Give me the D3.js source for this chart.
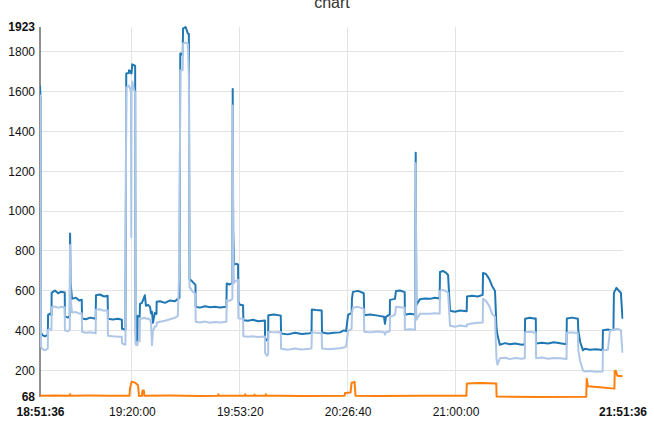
<!DOCTYPE html>
<html>
<head>
<meta charset="utf-8">
<script src="https://cdn.jsdelivr.net/npm/d3@7"></script>
<style>
  html, body { margin: 0; padding: 0; background: #fff; }
  svg { display: block; font-family: "Liberation Sans", Arial, sans-serif; }
</style>
</head>
<body>
<svg id="chart" width="654" height="426"></svg>
<script>
// ---- data (minutes after 18:51:36) ----
const chartTitle = "chart";
const startClock = [18, 51, 36];
const durationMinutes = 180;
const xTickLabels = ["19:20:00", "19:53:20", "20:26:40", "21:00:00"];
const yTickValues = [200, 400, 600, 800, 1000, 1200, 1400, 1600, 1800];
const yMin = 68, yMax = 1923;

const blueMinutes = [
  0, 0.15, 0.3, 0.8, 1.5, 2.4, 2.5, 3.1, 3.55, 3.6, 4.6, 5.6, 6.5, 7.65, 7.7, 8.7, 9.2, 9.3, 9.45, 9.9,
  11.1, 12.1, 12.9, 13.0, 14.2, 15.5, 17.2, 17.3, 18.5, 19.8, 20.9, 21.0, 22.5, 24.1, 25.3, 25.35, 26.4,
  26.65, 27.45, 27.5, 28.1, 28.2, 28.3, 28.5, 29.0, 29.4, 29.5, 29.65, 30.1, 30.15, 30.8, 30.9, 31.5,
  32.4, 32.75, 33.4, 34.0, 34.3, 34.6, 34.9, 35.5, 36.0, 36.05, 37.1, 38.6, 40.2, 41.7, 42.6, 43.1,
  43.35, 44.1, 44.2, 45.0, 45.7, 46.0, 46.2, 47.0, 48.05, 48.1, 49.4, 51.0, 52.5, 54.1, 55.6, 57.6,
  57.7, 58.6, 59.45, 59.55, 59.7, 59.95, 60.55, 61.2, 61.3, 61.8, 62.75, 62.85, 64.3, 65.8, 67.4, 69.5,
  69.55, 70.1, 70.5, 70.55, 72.3, 74.4, 74.5, 76.6, 78.8, 80.9, 83.35, 83.9, 84.0, 85.3, 87.05, 87.15,
  89.0, 90.8, 92.7, 93.9, 94.6, 95.2, 96.3, 96.4, 96.7, 98.3, 100.05, 100.2, 102.0, 104.4, 106.3, 106.6,
  106.9, 108.1, 108.15, 109.7, 110.0, 111.2, 112.7, 112.75, 114.3, 115.9, 116.1, 116.3, 117.4, 119.0,
  120.5, 122.0, 123.5, 123.6, 124.5, 125.5, 126.1, 126.7, 128.2, 129.8, 131.85, 131.95, 133.5, 135.3,
  136.8, 136.9, 137.8, 138.8, 139.7, 140.6, 141.05, 141.35, 142.1, 143.7, 145.2, 146.8, 148.9, 149.8,
  149.9, 151.4, 153.0, 153.2, 153.3, 155.1, 157.0, 158.8, 160.7, 162.7, 162.8, 164.4, 166.2, 166.35,
  166.9, 167.8, 168.4, 169.9, 171.8, 173.85, 173.95, 175.5, 176.1, 177.2, 177.35, 178.1, 179.05, 179.5, 180
];
const darkBlueValues = [
  1630, 1560, 390, 378, 372, 380, 480, 486, 478, 590, 602, 588, 596, 592, 472, 466, 475, 888, 640, 560,
  566, 552, 556, 462, 458, 466, 460, 578, 582, 572, 576, 460, 456, 460, 455, 410, 405,
  1690, 1692, 1706, 1700, 1690, 1692, 1736, 1732, 1728, 500, 350, 345, 475, 470, 535, 540,
  578, 525, 530, 520, 488, 495, 440, 490, 485, 545, 548, 540, 552, 548, 560, 565,
  1790, 1785, 1915, 1923, 1890, 1888, 660, 648, 630, 520, 516, 523, 518, 521, 517, 520,
  637, 632, 640, 1612, 900, 730, 736, 732, 545, 530, 528, 453, 450, 455, 448, 452,
  363, 352, 360, 478, 482, 476, 386, 382, 390, 384, 388, 390, 507, 504, 502, 391,
  386, 390, 392, 402, 398, 480, 490, 560, 595, 600, 588, 478, 482, 476, 470, 435,
  470, 482, 555, 560, 600, 602, 594, 480, 485, 482, 1292, 530, 558, 562,
  560, 566, 562, 695, 700, 690, 680, 500, 495, 502, 498, 572, 576, 572,
  580, 690, 685, 660, 625, 600, 420, 380, 330, 338, 332, 336, 330, 332,
  460, 465, 460, 462, 336, 340, 336, 342, 338, 333, 462, 466, 460, 400,
  345, 302, 310, 305, 307, 304, 403, 406, 404, 405, 590, 615, 598, 590, 460
];
const lightBlueValues = [
  1585, 1500, 320, 308, 302, 310, 405, 410, 404, 518, 522, 515, 520, 518, 402, 398, 405, 830, 560, 492,
  494, 486, 488, 395, 390, 393, 388, 505, 508, 500, 503, 375, 372, 370, 370, 336, 330,
  1620, 1625, 1630, 1600, 870, 1595, 1650, 1610, 1595, 340, 330, 328, 345, 348, 458, 462,
  465, 460, 462, 455, 440, 328, 400, 420, 425, 440, 445, 450, 458, 465, 475, 750,
  1706, 1706, 1840, 1845, 1838, 1680, 620, 600, 585, 445, 442, 446, 440, 444, 442, 445,
  553, 550, 560, 1530, 820, 640, 650, 655, 463, 462, 460, 372, 370, 372, 369, 371,
  290, 275, 282, 395, 392, 394, 310, 305, 311, 306, 310, 312, 392, 390, 388, 311,
  308, 310, 312, 316, 322, 400, 410, 490, 515, 520, 510, 395, 392, 396, 393, 380,
  393, 398, 470, 480, 520, 518, 515, 405, 408, 405, 1240, 455, 485, 486,
  485, 488, 486, 600, 605, 598, 590, 425, 420, 426, 422, 432, 436, 440,
  442, 560, 550, 525, 485, 470, 260, 230, 262, 265, 258, 264, 260, 262,
  392, 395, 390, 392, 262, 266, 260, 264, 262, 258, 390, 392, 388, 300,
  250, 200, 196, 198, 195, 196, 303, 305, 400, 406, 404, 410, 406, 402, 290
];
const orangeMinutes = [
  0, 4.6, 9.1, 9.3, 9.45, 15.5, 21.6, 27.65, 27.8, 28.3, 29.4, 30.3, 30.6, 31.5, 31.65, 32.1, 32.25,
  40.2, 49.4, 55.0, 55.1, 55.2, 63.3, 63.4, 63.5, 66.2, 66.3, 66.4, 69.7, 69.8, 69.9, 73.9, 80.3,
  94.1, 94.25, 95.95, 96.3, 97.2, 97.5, 105.1, 117.4, 131.75, 131.9, 136.0, 141.0, 141.1, 154.5,
  168.8, 168.95, 169.3, 173.0, 177.5, 177.6, 177.9, 178.4, 180
];
const orangeValues = [
  74, 76, 74, 82, 74, 75, 74, 74, 110, 144, 140, 127, 73, 74, 100, 100, 74,
  75, 73, 74, 82, 74, 74, 82, 74, 74, 80, 74, 74, 82, 74, 74, 73,
  74, 88, 90, 140, 144, 74, 73, 74, 74, 136, 138, 136, 70, 68,
  69, 160, 122, 117, 110, 198, 200, 175, 172
];

// ---- chart ----
const svg = d3.select("#chart");
const plot = { left: 40, right: 622.5, top: 27, bottom: 397 };

const t0 = new Date(2024, 0, 1, startClock[0], startClock[1], startClock[2]);
const toDate = m => new Date(t0.getTime() + m * 60000);
const t1 = toDate(durationMinutes);
const fmt = d3.timeFormat("%H:%M:%S");
const parseClock = d3.timeParse("%Y-%m-%d %H:%M:%S");

const x = d3.scaleTime().domain([t0, t1]).range([plot.left, plot.right]);
const y = d3.scaleLinear().domain([yMin, yMax]).range([plot.bottom, plot.top]);

const xTickDates = xTickLabels.map(s => parseClock("2024-01-01 " + s));

// grid
const grid = svg.append("g");
grid.selectAll("line.h").data(yTickValues).join("line")
  .attr("x1", plot.left).attr("x2", plot.right)
  .attr("y1", d => y(d)).attr("y2", d => y(d))
  .attr("stroke", "#e3e3e3").attr("stroke-width", 1).attr("shape-rendering", "crispEdges");
grid.selectAll("line.v").data(xTickDates).join("line")
  .attr("x1", d => x(d)).attr("x2", d => x(d))
  .attr("y1", plot.top).attr("y2", plot.bottom)
  .attr("stroke", "#e3e3e3").attr("stroke-width", 1).attr("shape-rendering", "crispEdges");

// y axis
const yAxis = d3.axisLeft(y).tickValues([yMin, ...yTickValues, yMax])
  .tickSize(0).tickPadding(5).tickFormat(d3.format("d"));
const yg = svg.append("g").attr("transform", `translate(${plot.left},0)`).call(yAxis);
yg.select(".domain").attr("stroke", "#222").attr("d", `M0,${plot.bottom}V${plot.top}`);
yg.selectAll("text").attr("font-size", 12).attr("fill", "#111")
  .attr("font-family", '"Liberation Sans", Arial, sans-serif')
  .attr("font-weight", d => (d === yMin || d === yMax) ? "bold" : "normal");

// x axis
const xAxis = d3.axisBottom(x).tickValues([t0, ...xTickDates, t1])
  .tickSize(0).tickPadding(10).tickFormat(fmt);
const xg = svg.append("g").attr("transform", `translate(0,${plot.bottom})`).call(xAxis);
xg.select(".domain").remove();
xg.selectAll("text").attr("font-size", 12).attr("fill", "#111")
  .attr("font-family", '"Liberation Sans", Arial, sans-serif')
  .attr("font-weight", d => (+d === +t0 || +d === +t1) ? "bold" : "normal");

// lines
svg.append("clipPath").attr("id", "clip").append("rect")
  .attr("x", plot.left).attr("y", plot.top - 2)
  .attr("width", plot.right - plot.left + 1).attr("height", plot.bottom - plot.top + 4);
const lineGen = d3.line().x(d => x(d[0])).y(d => y(d[1]));
const lines = svg.append("g").attr("clip-path", "url(#clip)");
const series = [
  { t: blueMinutes, v: darkBlueValues, color: "#1f77b4" },
  { t: blueMinutes, v: lightBlueValues, color: "#aec7e8" },
  { t: orangeMinutes, v: orangeValues, color: "#ff7f0e" }
];
series.forEach(s => {
  const pts = s.t.map((m, i) => [toDate(m), s.v[i]]);
  lines.append("path").datum(pts)
    .attr("d", lineGen).attr("fill", "none")
    .attr("stroke", s.color).attr("stroke-width", 2)
    .attr("stroke-linejoin", "round");
});

// title (partly above the top edge, as in the reference)
svg.append("text").attr("x", 332).attr("y", 8)
  .attr("text-anchor", "middle").attr("font-size", 16).attr("fill", "#333")
  .attr("font-family", '"Liberation Sans", Arial, sans-serif')
  .text(chartTitle);
</script>
</body>
</html>
